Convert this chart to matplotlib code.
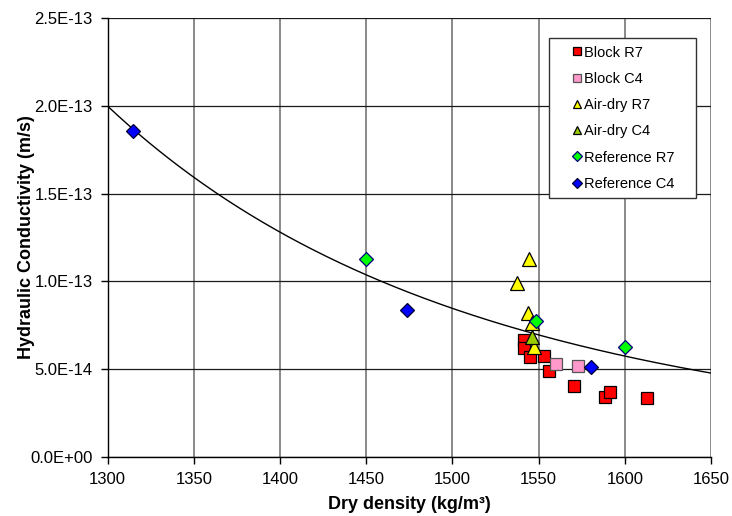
import matplotlib
matplotlib.use('Agg')
import matplotlib.pyplot as plt
import numpy as np
from matplotlib.ticker import FuncFormatter

plt.rcParams['font.family'] = ['Liberation Sans', 'DejaVu Sans']

# ── measured data: dry density (kg/m3) vs hydraulic conductivity (m/s) ──
block_r7_x = [1541.8, 1541.8, 1545.1, 1553.4, 1556.3, 1570.7, 1588.7, 1591.6, 1612.9]
block_r7_y = [6.67e-14, 6.18e-14, 5.70e-14, 5.74e-14, 4.87e-14, 4.05e-14, 3.39e-14, 3.67e-14, 3.33e-14]

block_c4_x = [1560.1, 1573.0]
block_c4_y = [5.28e-14, 5.18e-14]

airdry_r7_x = [1544.3, 1537.3, 1543.7, 1546.2, 1547.6]
airdry_r7_y = [1.125e-13, 9.89e-14, 8.18e-14, 7.64e-14, 6.27e-14]

airdry_c4_x = [1546.2]
airdry_c4_y = [6.84e-14]

ref_r7_x = [1450.0, 1548.6, 1600.3]
ref_r7_y = [1.127e-13, 7.72e-14, 6.27e-14]

ref_c4_x = [1314.8, 1473.4, 1580.6]
ref_c4_y = [1.859e-13, 8.35e-14, 5.12e-14]

# power-law trendline  k = a * rho^b
trend_a = 1.0366e6
trend_b = -6.01

x_ticks = [1300, 1350, 1400, 1450, 1500, 1550, 1600, 1650]
y_ticks = [0.0, 5e-14, 1e-13, 1.5e-13, 2e-13, 2.5e-13]

fig = plt.figure(figsize=(7.32, 5.16), dpi=100)
ax = fig.add_axes([0.1471, 0.1149, 0.8242, 0.8496])

# trendline
xt = np.linspace(1300, 1650, 300)
ax.plot(xt, trend_a * xt ** trend_b, color='black', lw=1.0, zorder=2)

series = [
    (block_r7_x, block_r7_y, 's', '#FF0000', '#000000', 8.5, 'Block R7'),
    (block_c4_x, block_c4_y, 's', '#FF99CC', '#555555', 8.5, 'Block C4'),
    (airdry_r7_x, airdry_r7_y, '^', '#FFFF00', '#000000', 9.5, 'Air-dry R7'),
    (airdry_c4_x, airdry_c4_y, '^', '#99CC00', '#000000', 9.5, 'Air-dry C4'),
    (ref_r7_x, ref_r7_y, 'D', '#00FF00', '#000080', 7.3, 'Reference R7'),
    (ref_c4_x, ref_c4_y, 'D', '#0000FF', '#000033', 7.3, 'Reference C4'),
]
for i, (xs, ys, mk, fc, ec, ms, lbl) in enumerate(series):
    ax.plot(xs, ys, linestyle='none', marker=mk, markersize=ms,
            markerfacecolor=fc, markeredgecolor=ec, markeredgewidth=0.9,
            label=lbl, zorder=3 + i * 0.1)

ax.set_xlim(1300, 1650)
ax.set_ylim(0, 2.5e-13)
ax.set_xticks(x_ticks)
ax.set_yticks(y_ticks)
ax.yaxis.set_major_formatter(FuncFormatter(lambda v, p: format(v, '.1E')))

# Excel-like grid: black horizontals, grey verticals
ax.set_axisbelow(True)
ax.yaxis.grid(True, color='#1a1a1a', lw=0.9)
ax.xaxis.grid(True, color='#808080', lw=1.3)
for s in ['top', 'right']:
    ax.spines[s].set_visible(False)
for s in ['left', 'bottom']:
    ax.spines[s].set_color('black')
    ax.spines[s].set_linewidth(1.0)

ax.tick_params(direction='out', length=5, width=1.0, labelsize=12, pad=6)

ax.set_xlabel('Dry density (kg/m³)', fontsize=13, fontweight='bold')
ax.set_ylabel('Hydraulic Conductivity (m/s)', fontsize=13, fontweight='bold')
ax.xaxis.set_label_coords(0.5, -0.110)
ax.xaxis.label.set_va('center')
ax.yaxis.set_label_coords(-0.134, 0.5)
ax.yaxis.label.set_va('center')

leg = ax.legend(loc='upper left', bbox_to_anchor=(0.7315, 0.5947, 0.2437, 0.3597),
                mode='expand', borderaxespad=0, fontsize=10.5, markerscale=0.65,
                handlelength=2.84, handletextpad=-0.94, borderpad=0.5,
                labelspacing=0.84, fancybox=False, framealpha=1,
                edgecolor='#333333')
leg.get_frame().set_linewidth(1.0)
leg.set_zorder(10)

plt.savefig('out.png', dpi=100, facecolor='white')
